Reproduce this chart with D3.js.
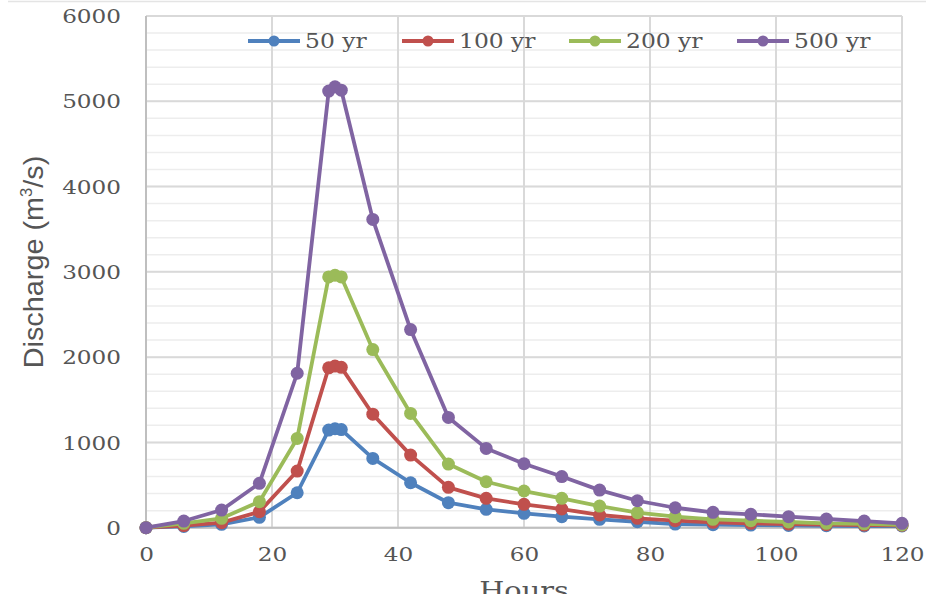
<!DOCTYPE html>
<html>
<head>
<meta charset="utf-8">
<script src="https://cdn.jsdelivr.net/npm/d3@7"></script>
<style>
	body { margin: 0; background: #fff; }
	svg { display: block; }
</style>
</head>
<body>
<script>
//Chart data
var hours = [0, 6, 12, 18, 24, 29, 30, 31, 36, 42, 48, 54, 60, 66, 72, 78, 84, 90, 96, 102, 108, 114, 120];
var yr50 = [0, 15, 40, 122, 410, 1145, 1160, 1150, 812, 527, 293, 215, 169, 129, 98, 70, 43, 35, 31, 27, 23, 20, 20];
var yr100 = [0, 25, 59, 187, 664, 1875, 1895, 1880, 1331, 851, 473, 344, 274, 219, 149, 110, 82, 63, 51, 43, 35, 31, 28];
var yr200 = [0, 51, 110, 305, 1047, 2940, 2960, 2940, 2089, 1340, 746, 539, 430, 344, 254, 176, 129, 98, 82, 67, 51, 45, 32];
var yr500 = [0, 78, 207, 520, 1811, 5120, 5170, 5130, 3615, 2323, 1293, 930, 750, 600, 441, 316, 234, 180, 157, 129, 102, 78, 51];
var seriesNames = ["50 yr", "100 yr", "200 yr", "500 yr"];
var xTicks = [0, 20, 40, 60, 80, 100, 120];
var yTicks = [0, 1000, 2000, 3000, 4000, 5000, 6000];
var yMinorTicks = d3.range(0, 6001, 200);

//Declare layout variables
var width = 930;
var height = 594;
var plotLeft = 146;
var plotTop = 16;
var plotRight = 902;
var plotBottom = 527.7;
var colors = ["#4F81BD", "#C0504D", "#9BBB59", "#8064A2"];
var textColor = "#555555";
var serif = "'DejaVu Serif', serif";

var allSeries = [yr50, yr100, yr200, yr500];

var svg = d3.select("body").append("svg")
	.attr("width", width)
	.attr("height", height);

//faint chart border along the top
svg.append("line")
	.attr("x1", 8).attr("x2", 926)
	.attr("y1", 1.5).attr("y2", 1.5)
	.attr("stroke", "#e4e4e4")
	.attr("stroke-width", 1.5);

var xScale = d3.scaleLinear().domain([0, 120]).range([plotLeft, plotRight]);
var yScale = d3.scaleLinear().domain([0, 6000]).range([plotBottom, plotTop]);

//stretches text sideways, the picture is wider than it is tall
function stretch(sel, k) {
	sel.each(function() {
		var w = this.getComputedTextLength();
		d3.select(this)
			.attr("textLength", w * k)
			.attr("lengthAdjust", "spacingAndGlyphs");
	});
}

//minor horizontal grid
svg.append("g").selectAll("line")
	.data(yMinorTicks)
	.enter()
	.append("line")
	.attr("x1", plotLeft).attr("x2", plotRight)
	.attr("y1", function(d) { return yScale(d); })
	.attr("y2", function(d) { return yScale(d); })
	.attr("stroke", "#ededed")
	.attr("stroke-width", 1.5);

//major horizontal grid
svg.append("g").selectAll("line")
	.data(yTicks)
	.enter()
	.append("line")
	.attr("x1", plotLeft).attr("x2", plotRight)
	.attr("y1", function(d) { return yScale(d); })
	.attr("y2", function(d) { return yScale(d); })
	.attr("stroke", "#d9d9d9")
	.attr("stroke-width", 2);

//vertical grid
svg.append("g").selectAll("line")
	.data(xTicks)
	.enter()
	.append("line")
	.attr("x1", function(d) { return xScale(d); })
	.attr("x2", function(d) { return xScale(d); })
	.attr("y1", plotTop).attr("y2", plotBottom)
	.attr("stroke", "#d9d9d9")
	.attr("stroke-width", 2);

//axis lines
svg.append("line")
	.attr("x1", plotLeft).attr("x2", plotLeft)
	.attr("y1", plotTop).attr("y2", plotBottom)
	.attr("stroke", "#bfbfbf")
	.attr("stroke-width", 2);
svg.append("line")
	.attr("x1", plotLeft).attr("x2", plotRight)
	.attr("y1", plotBottom).attr("y2", plotBottom)
	.attr("stroke", "#bfbfbf")
	.attr("stroke-width", 2);

//Y axis labels
var yAxis = d3.axisLeft(yScale)
	.tickValues(yTicks)
	.tickFormat(d3.format("d"))
	.tickSize(0)
	.tickPadding(25);
var yAxisG = svg.append("g")
	.attr("transform", "translate(" + plotLeft + ",0)")
	.call(yAxis);
yAxisG.select(".domain").remove();
yAxisG.selectAll("text")
	.attr("font-family", serif)
	.attr("font-size", 18.5)
	.attr("fill", textColor)
	.attr("dy", "0.36em");
stretch(yAxisG.selectAll("text"), 1.25);

//X axis labels
var xAxis = d3.axisBottom(xScale).tickValues(xTicks).tickSize(0);
var xAxisG = svg.append("g")
	.attr("transform", "translate(0," + plotBottom + ")")
	.call(xAxis);
xAxisG.select(".domain").remove();
xAxisG.selectAll("text")
	.attr("font-family", serif)
	.attr("font-size", 18.5)
	.attr("fill", textColor)
	.attr("y", 27)
	.attr("dy", "0.36em");
stretch(xAxisG.selectAll("text"), 1.25);

//axis titles (Hours is cut by the bottom edge, as in the picture)
var hoursText = svg.append("text")
	.attr("x", (plotLeft + plotRight) / 2)
	.attr("y", 599)
	.attr("text-anchor", "middle")
	.attr("font-family", serif)
	.attr("font-size", 24)
	.attr("fill", textColor)
	.text("Hours");
stretch(hoursText, 1.2);

var yTitle = svg.append("text")
	.attr("transform", "translate(43,262) rotate(-90) scale(1.03,1)")
	.attr("text-anchor", "middle")
	.attr("font-family", "'Liberation Sans', sans-serif")
	.attr("font-size", 28)
	.attr("fill", textColor);
yTitle.append("tspan").text("Discharge (m");
yTitle.append("tspan").attr("font-size", 16).attr("dy", -11).text("3");
yTitle.append("tspan").attr("dy", 11).text("/s)");

//lines and markers, one group per series
var line = d3.line()
	.x(function(d, i) { return xScale(hours[i]); })
	.y(function(d) { return yScale(d); });

for (var s = 0; s < allSeries.length; s++) {
	var g = svg.append("g");
	g.append("path")
		.datum(allSeries[s])
		.attr("d", line)
		.attr("fill", "none")
		.attr("stroke", colors[s])
		.attr("stroke-width", 3.8)
		.attr("stroke-linejoin", "round");
	g.selectAll("circle")
		.data(allSeries[s])
		.enter()
		.append("circle")
		.attr("cx", function(d, i) { return xScale(hours[i]); })
		.attr("cy", function(d) { return yScale(d); })
		.attr("r", 6.5)
		.attr("fill", colors[s]);
}

//legend
var legendX = [248, 402, 569, 737];
var legend = svg.append("g").attr("transform", "translate(0,41)");
for (var k = 0; k < seriesNames.length; k++) {
	legend.append("line")
		.attr("x1", legendX[k]).attr("x2", legendX[k] + 52)
		.attr("y1", 0).attr("y2", 0)
		.attr("stroke", colors[k])
		.attr("stroke-width", 4);
	legend.append("circle")
		.attr("cx", legendX[k] + 26)
		.attr("cy", 0)
		.attr("r", 5.5)
		.attr("fill", colors[k]);
	var lt = legend.append("text")
		.attr("x", legendX[k] + 57)
		.attr("y", 0)
		.attr("dy", "0.36em")
		.attr("font-family", serif)
		.attr("font-size", 20)
		.attr("fill", textColor)
		.text(seriesNames[k]);
	stretch(lt, 1.17);
}
</script>
</body>
</html>
